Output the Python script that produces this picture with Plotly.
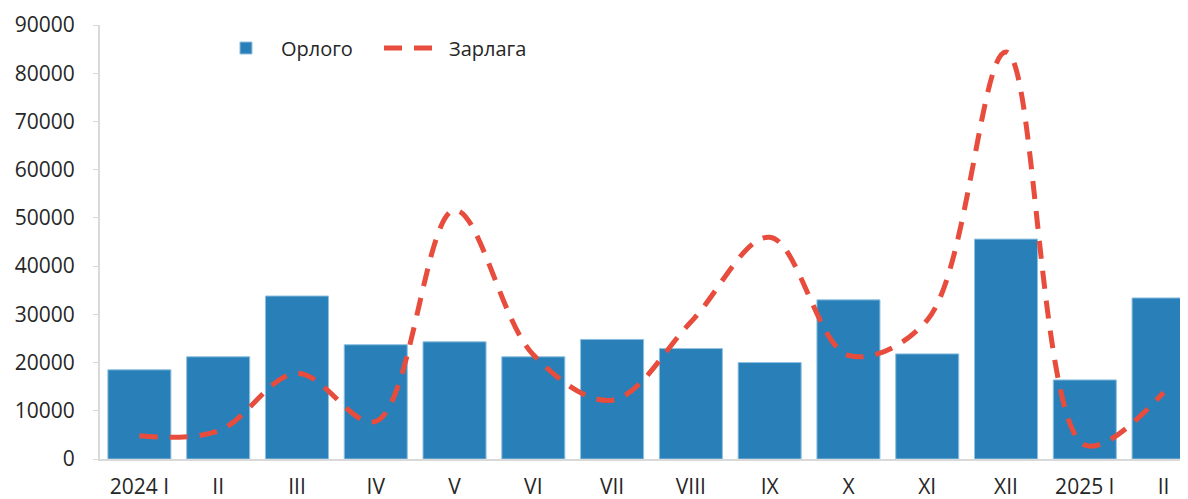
import plotly.graph_objects as go

categories = ["2024 I", "II", "III", "IV", "V", "VI", "VII", "VIII", "IX", "X", "XI", "XII", "2025 I", "II"]
orlogo = [18500, 21200, 33800, 23700, 24300, 21200, 24800, 22900, 20000, 33000, 21800, 45600, 16400, 33400]
zarlaga = [4800, 5800, 17800, 7800, 51600, 21600, 12200, 28400, 46000, 21500, 28800, 84400, 2900, 13800]
y_ticks = [0, 10000, 20000, 30000, 40000, 50000, 60000, 70000, 80000, 90000]

positions = list(range(len(categories)))

fig = go.Figure()
fig.add_trace(go.Bar(
    x=positions, y=orlogo, name="Орлого",
    marker=dict(color="#2980B9", line=dict(color="#8EC0E0", width=1)),
))
fig.add_trace(go.Scatter(
    x=positions, y=zarlaga, name="Зарлага", mode="lines",
    line=dict(color="#E74C3C", width=5, dash="18px,12px", shape="spline", smoothing=1.0),
))

fig.update_layout(
    width=1180, height=491,
    margin=dict(l=92, r=0, t=17, b=40),
    paper_bgcolor="white", plot_bgcolor="white",
    bargap=0.2,
    font=dict(family="Open Sans", size=21, color="#262626"),
    legend=dict(orientation="h", x=0.102, y=0.947, xanchor="left", yanchor="middle",
                font=dict(family="Open Sans", size=20, color="#262626"),
                bgcolor="rgba(0,0,0,0)", itemwidth=60,
                entrywidth=93, entrywidthmode="pixels"),
    xaxis=dict(
        range=[-0.5, 13.31],
        tickvals=positions, ticktext=categories,
        showline=True, linecolor="#D9D9D9", linewidth=2,
        ticks="", showgrid=False, zeroline=False, ticklabelstandoff=8,
        tickfont=dict(family="Open Sans", size=21, color="#262626"),
    ),
    yaxis=dict(
        range=[0, 90000], tickvals=y_ticks,
        ticktext=[str(v) for v in y_ticks],
        showline=True, linecolor="#D9D9D9", linewidth=2,
        ticks="outside", ticklen=5, tickcolor="#D9D9D9",
        showgrid=False, zeroline=False, ticklabelstandoff=14,
        tickfont=dict(family="Open Sans", size=21, color="#262626"),
    ),
)

fig.write_html("out.html")
